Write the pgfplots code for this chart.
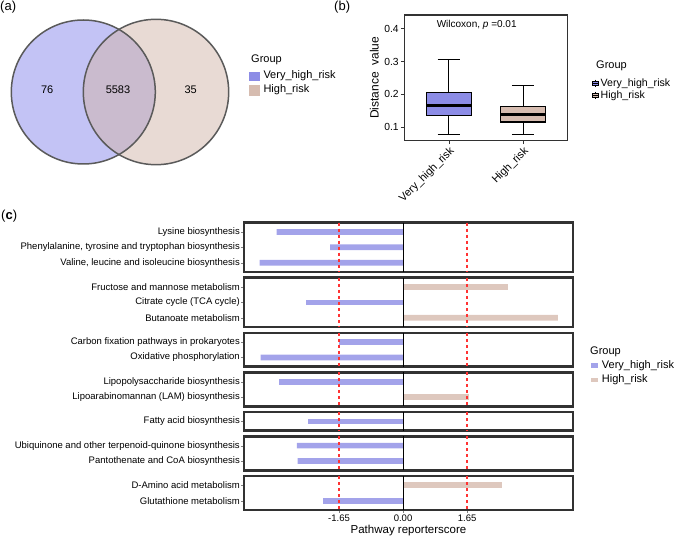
\documentclass[border=0pt]{standalone}
\usepackage{fontspec}
\setmainfont{Liberation Sans}
\usepackage{pgfplots}
\pgfplotsset{compat=1.18}
\usepgfplotslibrary{statistics}

\definecolor{vhr}{RGB}{140,140,230}
\definecolor{hr}{RGB}{214,188,176}
\definecolor{cvhr}{RGB}{163,163,234}
\definecolor{chr}{RGB}{222,200,190}
\definecolor{vennA}{RGB}{195,195,245}
\definecolor{vennB}{RGB}{209,181,169}
\definecolor{venngray}{RGB}{90,90,90}
\definecolor{framec}{RGB}{50,50,50}

\newcommand{\fs}[1]{\fontsize{#1}{#1}\selectfont}

\pgfplotsset{
  facet/.style={
    scale only axis, width=329pt, anchor=north west,
    xmin=-4.10, xmax=4.38, y dir=reverse,
    xtick=\empty, tick align=outside,
    ytick pos=left, xtick pos=bottom,
    axis line style={line width=2.6pt, draw=framec},
    major tick length=3pt,
    yticklabel style={font=\fs{9.5}, inner sep=1pt},
  },
  negbar/.style={xbar, bar shift=0pt, bar width=0.37, fill=cvhr, draw=none},
  posbar/.style={xbar, bar shift=0pt, bar width=0.37, fill=chr, draw=none},
}

\begin{document}
\begin{tikzpicture}
\path (0pt,0pt) rectangle (678pt,-537pt);

% ---------------- (a) Venn ----------------
\node[anchor=west, inner sep=0pt, font=\fs{13}] at (0pt,-6.7pt) {(a)};
\begin{axis}[at={(0pt,0pt)}, anchor=north west, hide axis, scale only axis,
  x=1pt, y=1pt, xmin=0, xmax=240, ymin=-200, ymax=0, clip=false]
  \fill[vennA] (axis cs:83.3,-92) circle[radius=72];
  \fill[vennB, fill opacity=0.5] (axis cs:156,-92) circle[radius=72.7];
  \draw[venngray, line width=1.5pt] (axis cs:83.3,-92) circle[radius=72];
  \draw[venngray, line width=1.5pt] (axis cs:156,-92) circle[radius=72.7];
  \node[font=\fs{11}] at (axis cs:47.2,-90) {76};
  \node[font=\fs{11}] at (axis cs:118,-90) {5583};
  \node[font=\fs{11}] at (axis cs:190.7,-90) {35};
\end{axis}
\node[anchor=west, inner sep=0pt, font=\fs{11}] at (251pt,-60pt) {Group};
\fill[vhr] (249pt,-71.7pt) rectangle (260pt,-81.3pt);
\fill[hr] (249pt,-85.3pt) rectangle (260pt,-96.5pt);
\node[anchor=west, inner sep=0pt, font=\fs{11}] at (263.3pt,-76pt) {Very\_high\_risk};
\node[anchor=west, inner sep=0pt, font=\fs{11}] at (263.3pt,-89.3pt) {High\_risk};

% ---------------- (b) boxplot ----------------
\node[anchor=west, inner sep=0pt, font=\fs{13}] at (334pt,-6.7pt) {(b)};
\begin{axis}[at={(404.3pt,-140.7pt)}, anchor=south west, scale only axis,
  width=163.4pt, height=125.7pt,
  xmin=0.4, xmax=2.6, ymin=0.059, ymax=0.4416,
  xtick={1,2}, xticklabels={Very\_high\_risk,High\_risk},
  ytick={0.1,0.2,0.3,0.4},
  ytick pos=left, xtick pos=bottom,
  tick align=outside, major tick length=3.5pt,
  tick style={line width=0.6pt, black!80},
  axis line style={line width=1.4pt, draw=framec},
  xticklabel style={rotate=45, anchor=north east, font=\fs{11}, inner sep=1pt},
  yticklabel style={font=\fs{10.3}, inner sep=2pt,
    /pgf/number format/fixed, /pgf/number format/fixed zerofill,
    /pgf/number format/precision=1, /pgf/number format/assume math mode=true},
  ylabel={Distance\ \ value}, ylabel style={font=\fs{12}}]
  \addplot[black, boxplot prepared={draw direction=y, draw position=1,
      lower whisker=0.077, lower quartile=0.135, median=0.167,
      upper quartile=0.205, upper whisker=0.305,
      box extend=0.6, whisker extend=0.3,
      every box/.style={draw=black, fill=vhr, line width=1.1pt},
      every whisker/.style={line width=1.1pt},
      every median/.style={line width=2.6pt}}] coordinates {};
  \addplot[black, boxplot prepared={draw direction=y, draw position=2,
      lower whisker=0.077, lower quartile=0.116, median=0.139,
      upper quartile=0.164, upper whisker=0.227,
      box extend=0.6, whisker extend=0.3,
      every box/.style={draw=black, fill=hr, line width=1.1pt},
      every whisker/.style={line width=1.1pt},
      every median/.style={line width=2.6pt}}] coordinates {};
  \node[font=\fs{10}] at (rel axis cs:0.443,0.92) {Wilcoxon, \textit{p} =0.01};
\end{axis}
\node[anchor=west, inner sep=0pt, font=\fs{11}] at (596pt,-66pt) {Group};
\foreach \yc/\col in {83.5/vhr, 95.5/hr} {
  \draw[black, line width=0.6pt] (595.3pt,-\yc pt+3.8pt) -- (595.3pt,-\yc pt-3.8pt);
  \filldraw[fill=\col, draw=black, line width=0.6pt] (592.5pt,-\yc pt+2.3pt) rectangle (598.1pt,-\yc pt-2.3pt);
  \draw[black, line width=0.9pt] (592.5pt,-\yc pt) -- (598.1pt,-\yc pt);
}
\node[anchor=west, inner sep=0pt, font=\fs{10.6}] at (600.5pt,-83.5pt) {Very\_high\_risk};
\node[anchor=west, inner sep=0pt, font=\fs{10.6}] at (600.5pt,-95.5pt) {High\_risk};

% ---------------- (c) reporter score ----------------
\node[anchor=west, inner sep=0pt, font=\fs{13}] at (1pt,-215.8pt) {(\textbf{c})};

\begin{axis}[facet, at={(244pt,-222.7pt)}, height=49.28pt, ymin=0.4, ymax=3.6,
  ytick={1,2,3}, yticklabels={Lysine biosynthesis,
    {Phenylalanine, tyrosine and tryptophan biosynthesis},
    {Valine, leucine and isoleucine biosynthesis}}]
  \addplot[negbar] coordinates {(-3.26,1) (-1.88,2) (-3.70,3)};
  \addplot[red!80, line width=1.3pt, dashed] coordinates {(-1.65,0.4) (-1.65,3.6)};
  \addplot[red!80, line width=1.3pt, dashed] coordinates {(1.65,0.4) (1.65,3.6)};
  \addplot[black, line width=0.9pt] coordinates {(0,0.4) (0,3.6)};
\end{axis}

\begin{axis}[facet, at={(244pt,-277.76pt)}, height=49.28pt, ymin=0.4, ymax=3.6,
  ytick={1,2,3}, yticklabels={Fructose and mannose metabolism,
    Citrate cycle (TCA cycle), Butanoate metabolism}]
  \addplot[posbar] coordinates {(2.70,1) (3.99,3)};
  \addplot[negbar] coordinates {(-2.50,2)};
  \addplot[red!80, line width=1.3pt, dashed] coordinates {(-1.65,0.4) (-1.65,3.6)};
  \addplot[red!80, line width=1.3pt, dashed] coordinates {(1.65,0.4) (1.65,3.6)};
  \addplot[black, line width=0.9pt] coordinates {(0,0.4) (0,3.6)};
\end{axis}

\begin{axis}[facet, at={(244pt,-332.82pt)}, height=33.88pt, ymin=0.4, ymax=2.6,
  ytick={1,2}, yticklabels={Carbon fixation pathways in prokaryotes,
    Oxidative phosphorylation}]
  \addplot[negbar] coordinates {(-1.65,1) (-3.67,2)};
  \addplot[red!80, line width=1.3pt, dashed] coordinates {(-1.65,0.4) (-1.65,2.6)};
  \addplot[red!80, line width=1.3pt, dashed] coordinates {(1.65,0.4) (1.65,2.6)};
  \addplot[black, line width=0.9pt] coordinates {(0,0.4) (0,2.6)};
\end{axis}

\begin{axis}[facet, at={(244pt,-372.48pt)}, height=33.88pt, ymin=0.4, ymax=2.6,
  ytick={1,2}, yticklabels={Lipopolysaccharide biosynthesis,
    Lipoarabinomannan (LAM) biosynthesis}]
  \addplot[negbar] coordinates {(-3.19,1)};
  \addplot[posbar] coordinates {(1.69,2)};
  \addplot[red!80, line width=1.3pt, dashed] coordinates {(-1.65,0.4) (-1.65,2.6)};
  \addplot[red!80, line width=1.3pt, dashed] coordinates {(1.65,0.4) (1.65,2.6)};
  \addplot[black, line width=0.9pt] coordinates {(0,0.4) (0,2.6)};
\end{axis}

\begin{axis}[facet, at={(244pt,-412.14pt)}, height=18.48pt, ymin=0.4, ymax=1.6,
  ytick={1}, yticklabels={Fatty acid biosynthesis}]
  \addplot[negbar] coordinates {(-2.44,1)};
  \addplot[red!80, line width=1.3pt, dashed] coordinates {(-1.65,0.4) (-1.65,1.6)};
  \addplot[red!80, line width=1.3pt, dashed] coordinates {(1.65,0.4) (1.65,1.6)};
  \addplot[black, line width=0.9pt] coordinates {(0,0.4) (0,1.6)};
\end{axis}

\begin{axis}[facet, at={(244pt,-436.4pt)}, height=33.88pt, ymin=0.4, ymax=2.6,
  ytick={1,2}, yticklabels={Ubiquinone and other terpenoid-quinone biosynthesis,
    Pantothenate and CoA biosynthesis}]
  \addplot[negbar] coordinates {(-2.74,1) (-2.72,2)};
  \addplot[red!80, line width=1.3pt, dashed] coordinates {(-1.65,0.4) (-1.65,2.6)};
  \addplot[red!80, line width=1.3pt, dashed] coordinates {(1.65,0.4) (1.65,2.6)};
  \addplot[black, line width=0.9pt] coordinates {(0,0.4) (0,2.6)};
\end{axis}

\begin{axis}[facet, at={(244pt,-476.06pt)}, height=33.88pt, ymin=0.4, ymax=2.6,
  ytick={1,2}, yticklabels={D-Amino acid metabolism, Glutathione metabolism},
  xtick={-1.65,0,1.65}, xticklabels={-1.65,0.00,1.65},
  xticklabel style={font=\fs{9.5}, inner sep=2pt},
  xlabel={Pathway reporterscore}, xlabel style={font=\fs{11.5}, inner sep=1pt}]
  \addplot[posbar] coordinates {(2.56,1)};
  \addplot[negbar] coordinates {(-2.07,2)};
  \addplot[red!80, line width=1.3pt, dashed] coordinates {(-1.65,0.4) (-1.65,2.6)};
  \addplot[red!80, line width=1.3pt, dashed] coordinates {(1.65,0.4) (1.65,2.6)};
  \addplot[black, line width=0.9pt] coordinates {(0,0.4) (0,2.6)};
\end{axis}

\node[anchor=west, inner sep=0pt, font=\fs{11}] at (590pt,-351.7pt) {Group};
\fill[cvhr] (590.7pt,-362.8pt) rectangle (598.3pt,-367.6pt);
\fill[chr] (590.7pt,-377.6pt) rectangle (598.3pt,-382.4pt);
\node[anchor=west, inner sep=0pt, font=\fs{11}] at (601.7pt,-365.2pt) {Very\_high\_risk};
\node[anchor=west, inner sep=0pt, font=\fs{11}] at (601.7pt,-380pt) {High\_risk};
\end{tikzpicture}
\end{document}
